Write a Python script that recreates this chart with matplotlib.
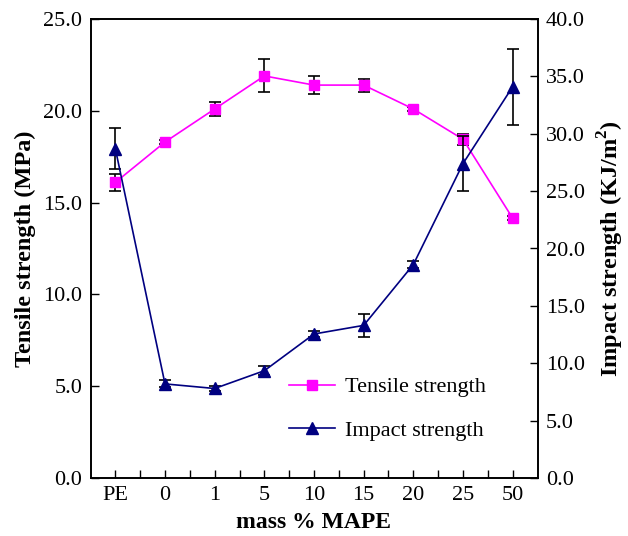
import numpy as np
import matplotlib
matplotlib.use("Agg")
import matplotlib.pyplot as plt

plt.rcParams['font.family'] = ['Liberation Serif', 'DejaVu Serif']
plt.rcParams['mathtext.fontset'] = 'custom'
plt.rcParams['mathtext.rm'] = 'Liberation Serif'
plt.rcParams['mathtext.bf'] = 'Liberation Serif:bold'

# ---- data ----
categories = ['PE', '0', '1', '5', '10', '15', '20', '25', '50']
tensile = [16.1, 18.3, 20.1, 21.9, 21.4, 21.4, 20.1, 18.45, 14.15]
tensile_err = [0.45, 0.1, 0.4, 0.9, 0.5, 0.35, 0.1, 0.3, 0.1]
impact = [28.7, 8.2, 7.8, 9.35, 12.55, 13.3, 18.6, 27.4, 34.1]
impact_err = [1.8, 0.3, 0.2, 0.4, 0.3, 1.0, 0.3, 2.4, 3.3]

x = np.arange(len(categories))

fig = plt.figure(figsize=(6.28, 5.36), dpi=100)
ax = fig.add_axes([90.5 / 628, 58 / 536, 447 / 628, 459 / 536])
ax2 = ax.twinx()

ax.errorbar(x, tensile, yerr=tensile_err, fmt='none', ecolor='black',
            elinewidth=1.2, capsize=4, capthick=1.2, zorder=2)
l1, = ax.plot(x, tensile, color='#ff00ff', marker='s', markersize=7,
              linewidth=1.2, label='Tensile strength', zorder=3)

ax2.errorbar(x, impact, yerr=impact_err, fmt='none', ecolor='black',
             elinewidth=1.2, capsize=4, capthick=1.2, zorder=2)
l2, = ax2.plot(x, impact, color='#000080', marker='^', markersize=8,
               linewidth=1.2, label='Impact strength', zorder=3)

ax.set_xlim(-0.5, len(categories) - 0.5)
ax.set_ylim(0, 25)
ax2.set_ylim(0, 40)
ax.set_yticks(np.arange(0, 25.1, 5))
ax.set_yticklabels([f'{v:.1f}' for v in np.arange(0, 25.1, 5)])
ax2.set_yticks(np.arange(0, 40.1, 5))
ax2.set_yticklabels([f'{v:.1f}' for v in np.arange(0, 40.1, 5)])
ax.set_xticks(x)
ax.set_xticklabels(categories)
ax.set_xticks(x[:-1] + 0.5, minor=True)

ax.tick_params(axis='both', which='major', direction='in', length=6,
               labelsize=16, width=1, pad=6)
ax.tick_params(axis='x', which='minor', direction='in', length=6, width=1)
ax2.tick_params(axis='y', direction='in', length=6, labelsize=16, width=1,
                pad=6)
for a in (ax, ax2):
    for s in a.spines.values():
        s.set_linewidth(1.2)

ax.set_xlabel('mass % MAPE', fontsize=17, fontweight='bold', labelpad=5)
ax.set_ylabel('Tensile strength (MPa)', fontsize=17.5, fontweight='bold',
              labelpad=5)
ax2.set_ylabel(r'Impact strength (KJ/m$^\mathbf{2}$)', fontsize=17.5,
               fontweight='bold', labelpad=8)

ax.legend(handles=[l1, l2], loc='upper left', bbox_to_anchor=(0.40, 0.264),
          frameon=False, fontsize=16, handlelength=2.07, labelspacing=1.05,
          handletextpad=0.45)

fig.savefig('out.png', dpi=100)
